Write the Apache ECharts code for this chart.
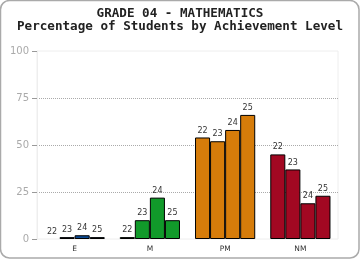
<!DOCTYPE html>
<html>
<head>
<meta charset="utf-8">
<script src="https://cdn.jsdelivr.net/npm/echarts@6/dist/echarts.min.js"></script>
<style>
  html, body { margin: 0; padding: 0; background: #fff; }
  #chart { width: 360px; height: 260px; }
</style>
</head>
<body>
<div id="chart"></div>
<script>
// achievement levels and school years
const levels = ['E', 'M', 'PM', 'NM'];
const years = ['22', '23', '24', '25'];
const levelColors = ['#0b4a94', '#119a2a', '#d67c0a', '#a20822'];

// percentage per year, one value per level
const pct22 = [0, 1, 54, 45];
const pct23 = [1, 10, 52, 37];
const pct24 = [2, 22, 58, 19];
const pct25 = [1, 10, 66, 23];
const yTicks = [0, 25, 50, 75, 100];

const chart = echarts.init(document.getElementById('chart'));

const series = [pct22, pct23, pct24, pct25].map((vals, i) => ({
  name: years[i],
  type: 'bar',
  barGap: 0,
  barCategoryGap: '20%',
  data: vals.map((v, j) => ({
    value: v,
    // a zero bar shows no outline in the original
    itemStyle: { color: levelColors[j], borderWidth: v === 0 ? 0 : 1 },
  })),
  itemStyle: { borderColor: '#000', borderWidth: 1 },
  label: {
    show: true,
    position: 'top',
    distance: 3,
    formatter: () => years[i],
    fontSize: 8,
    color: '#333',
    fontFamily: 'DejaVu Sans',
  },
}));

chart.setOption({
  animation: false,
  title: {
    text: 'GRADE 04 - MATHEMATICS\nPercentage of Students by Achievement Level',
    left: 'center',
    top: 2,
    textStyle: {
      fontFamily: 'DejaVu Sans Mono',
      fontWeight: 'bold',
      fontSize: 12.6,
      lineHeight: 13,
      color: '#222',
    },
  },
  graphic: [{
    type: 'rect',
    shape: { x: 0.5, y: 0.5, width: 358.5, height: 257.5, r: 9 },
    style: { fill: 'none', stroke: '#aaa', lineWidth: 1.5 },
    silent: true,
  }],
  grid: {
    left: 37, right: 22, top: 51, bottom: 21,
    show: true, borderColor: '#eee', borderWidth: 1,
  },
  xAxis: {
    type: 'category',
    data: levels,
    axisLine: { show: false },
    axisTick: { show: false },
    axisLabel: { fontSize: 7.5, color: '#333', margin: 6, fontFamily: 'DejaVu Sans' },
  },
  yAxis: {
    type: 'value',
    min: yTicks[0],
    max: yTicks[yTicks.length - 1],
    interval: 25,
    axisLine: { show: true, lineStyle: { color: '#eee' } },
    axisTick: { show: true, length: 5, lineStyle: { color: '#999' } },
    axisLabel: { fontSize: 10, color: '#aaa', margin: 8, fontFamily: 'DejaVu Sans' },
    splitLine: {
      show: true,
      showMinLine: false,
      showMaxLine: false,
      lineStyle: { color: '#aaa', type: [1, 1], width: 1 },
    },
  },
  series: series,
});
</script>
</body>
</html>
